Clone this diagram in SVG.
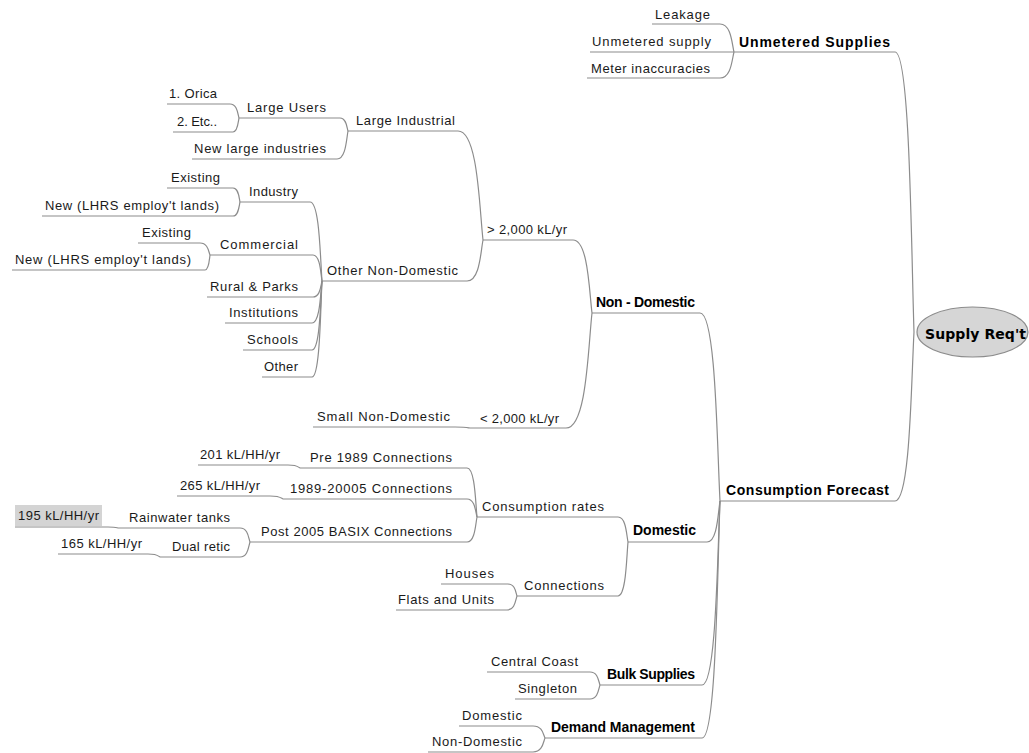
<svg xmlns="http://www.w3.org/2000/svg" width="1029" height="753" viewBox="0 0 1029 753">
<style>
text{font-family:"Liberation Sans",Arial,sans-serif;font-size:13px;fill:#1a1a1a}
text.b{font-weight:bold;font-size:14px;fill:#000}
text.r{font-family:"DejaVu Sans",Verdana,sans-serif;font-weight:bold;font-size:14px;fill:#000}
line,path{stroke:#8c8c8c;stroke-width:1.2;fill:none}
</style>
<rect width="1029" height="753" fill="#fff"/>
<g id="connectors">
<path d="M720,24 C731.2,24 731.9,43.6 734,52"/>
<path d="M720,78 C731.2,78 731.9,59.8 734,52"/>
<path d="M895,52 C910.2,52 911.2,248 914,332"/>
<path d="M895,501 C910.2,501 911.2,382.7 914,332"/>
<path d="M700,313 C716,313 717,444.6 720,501"/>
<path d="M707,542 C717.4,542 718,513.3 720,501"/>
<path d="M702,685 C716.4,685 717.3,556.2 720,501"/>
<path d="M702,738 C716.4,738 717.3,572.1 720,501"/>
<path d="M573,240 C588.2,240 589.2,291.1 592,313"/>
<path d="M566,428 C586.8,428 588.1,347.5 592,313"/>
<path d="M458,131 C478,131 479.3,207.3 483,240"/>
<path d="M467,281 C479.8,281 480.6,252.3 483,240"/>
<path d="M455,427 C467,427 467.8,427.7 470,428"/>
<path d="M340,118 C346.4,118 346.8,127.1 348,131"/>
<path d="M337,159 C345.8,159 346.4,139.4 348,131"/>
<path d="M230,104 C237.2,104 237.7,113.8 239,118"/>
<path d="M233,132 C237.8,132 238.1,122.2 239,118"/>
<path d="M310,202 C319.6,202 320.2,257.3 322,281"/>
<path d="M313,255 C320.2,255 320.7,273.2 322,281"/>
<path d="M313,297 C320.2,297 320.7,285.8 322,281"/>
<path d="M312,323 C320,323 320.5,293.6 322,281"/>
<path d="M312,350 C320,350 320.5,301.7 322,281"/>
<path d="M312,377 C320,377 320.5,309.8 322,281"/>
<path d="M233,188 C238.6,188 239,197.8 240,202"/>
<path d="M233,216 C238.6,216 239,206.2 240,202"/>
<path d="M200,243 C208,243 208.5,251.4 210,255"/>
<path d="M205,270 C209,270 209.3,259.5 210,255"/>
<path d="M618,517 C626,517 626.5,534.5 628,542"/>
<path d="M618,596 C626,596 626.5,558.2 628,542"/>
<path d="M467,468 C475,468 475.5,502.3 477,517"/>
<path d="M467,499 C475,499 475.5,511.6 477,517"/>
<path d="M467,542 C475,542 475.5,524.5 477,517"/>
<path d="M288,465 C297.6,465 298.2,467.1 300,468"/>
<path d="M270,496 C280.4,496 281,498.1 283,499"/>
<path d="M240,528 C248,528 248.5,537.8 250,542"/>
<path d="M240,557 C248,557 248.5,546.5 250,542"/>
<path d="M108,527 C116,527 116.5,527.7 118,528"/>
<path d="M148,554 C157.6,554 158.2,556.1 160,557"/>
<path d="M508,584 C515.2,584 515.7,592.4 517,596"/>
<path d="M507,610 C515,610 515.5,600.2 517,596"/>
<path d="M590,672 C598,672 598.5,681.1 600,685"/>
<path d="M590,699 C598,699 598.5,689.2 600,685"/>
<path d="M533,726 C542.6,726 543.2,734.4 545,738"/>
<path d="M533,752 C542.6,752 543.2,742.2 545,738"/>
</g>
<g id="root">
<ellipse cx="972.5" cy="332" rx="55.5" ry="25" fill="#d6d6d6" stroke="#8c8c8c" stroke-width="1.2"/>
<text class="r" x="925" y="339" textLength="101" lengthAdjust="spacing">Supply Req't</text>
</g>
<g id="unmetered-supplies"><line x1="734" y1="52" x2="895" y2="52"/><text class="b" x="739" y="47" textLength="151" lengthAdjust="spacing">Unmetered Supplies</text></g>
<g id="leakage"><line x1="652" y1="24" x2="720" y2="24"/><text x="655" y="19" textLength="55" lengthAdjust="spacing">Leakage</text></g>
<g id="unmetered-supply"><line x1="590" y1="52" x2="734" y2="52"/><text x="592" y="46" textLength="119" lengthAdjust="spacing">Unmetered supply</text></g>
<g id="meter-inaccuracies"><line x1="587" y1="78" x2="720" y2="78"/><text x="591" y="73" textLength="119" lengthAdjust="spacing">Meter inaccuracies</text></g>
<g id="consumption-forecast"><line x1="720" y1="501" x2="895" y2="501"/><text class="b" x="726" y="495" textLength="163" lengthAdjust="spacing">Consumption Forecast</text></g>
<g id="non-domestic"><line x1="592" y1="313" x2="700" y2="313"/><text class="b" x="596" y="307" textLength="99" lengthAdjust="spacing">Non - Domestic</text></g>
<g id="gt2000"><line x1="483" y1="240" x2="573" y2="240"/><text x="487" y="234" textLength="80" lengthAdjust="spacing">&gt; 2,000 kL/yr</text></g>
<g id="lt2000"><line x1="470" y1="428" x2="566" y2="428"/><text x="480" y="423" textLength="79" lengthAdjust="spacing">&lt; 2,000 kL/yr</text></g>
<g id="small-non-domestic"><line x1="313" y1="427" x2="455" y2="427"/><text x="317" y="421" textLength="133" lengthAdjust="spacing">Small Non-Domestic</text></g>
<g id="large-industrial"><line x1="348" y1="131" x2="458" y2="131"/><text x="356" y="125" textLength="99" lengthAdjust="spacing">Large Industrial</text></g>
<g id="large-users"><line x1="239" y1="118" x2="340" y2="118"/><text x="247" y="112" textLength="79" lengthAdjust="spacing">Large Users</text></g>
<g id="orica"><line x1="167" y1="104" x2="230" y2="104"/><text x="169" y="98" textLength="48" lengthAdjust="spacing">1. Orica</text></g>
<g id="etc"><line x1="173" y1="132" x2="233" y2="132"/><text x="177" y="126" textLength="40" lengthAdjust="spacing">2. Etc..</text></g>
<g id="new-large-industries"><line x1="192" y1="159" x2="337" y2="159"/><text x="194" y="153" textLength="132" lengthAdjust="spacing">New large industries</text></g>
<g id="other-non-domestic"><line x1="322" y1="281" x2="467" y2="281"/><text x="327" y="275" textLength="131" lengthAdjust="spacing">Other Non-Domestic</text></g>
<g id="industry"><line x1="240" y1="202" x2="310" y2="202"/><text x="249" y="196" textLength="49" lengthAdjust="spacing">Industry</text></g>
<g id="industry-existing"><line x1="167" y1="188" x2="233" y2="188"/><text x="171" y="182" textLength="49" lengthAdjust="spacing">Existing</text></g>
<g id="industry-new"><line x1="42" y1="216" x2="233" y2="216"/><text x="45" y="210" textLength="174" lengthAdjust="spacing">New (LHRS employ't lands)</text></g>
<g id="commercial"><line x1="210" y1="255" x2="313" y2="255"/><text x="220" y="249" textLength="78" lengthAdjust="spacing">Commercial</text></g>
<g id="commercial-existing"><line x1="138" y1="243" x2="200" y2="243"/><text x="142" y="237" textLength="49" lengthAdjust="spacing">Existing</text></g>
<g id="commercial-new"><line x1="12" y1="270" x2="205" y2="270"/><text x="15" y="264" textLength="176" lengthAdjust="spacing">New (LHRS employ't lands)</text></g>
<g id="rural-parks"><line x1="207" y1="297" x2="313" y2="297"/><text x="210" y="291" textLength="88" lengthAdjust="spacing">Rural &amp; Parks</text></g>
<g id="institutions"><line x1="225" y1="323" x2="312" y2="323"/><text x="229" y="317" textLength="69" lengthAdjust="spacing">Institutions</text></g>
<g id="schools"><line x1="243" y1="350" x2="312" y2="350"/><text x="247" y="344" textLength="51" lengthAdjust="spacing">Schools</text></g>
<g id="other"><line x1="262" y1="377" x2="312" y2="377"/><text x="264" y="371" textLength="34" lengthAdjust="spacing">Other</text></g>
<g id="domestic"><line x1="628" y1="542" x2="707" y2="542"/><text class="b" x="633" y="535" textLength="63" lengthAdjust="spacing">Domestic</text></g>
<g id="consumption-rates"><line x1="477" y1="517" x2="618" y2="517"/><text x="482" y="511" textLength="122" lengthAdjust="spacing">Consumption rates</text></g>
<g id="pre-1989"><line x1="300" y1="468" x2="467" y2="468"/><text x="310" y="462" textLength="142" lengthAdjust="spacing">Pre 1989 Connections</text></g>
<g id="rate-201"><line x1="198" y1="465" x2="288" y2="465"/><text x="200" y="459" textLength="80" lengthAdjust="spacing">201 kL/HH/yr</text></g>
<g id="c1989"><line x1="283" y1="499" x2="467" y2="499"/><text x="290" y="493" textLength="162" lengthAdjust="spacing">1989-20005 Connections</text></g>
<g id="rate-265"><line x1="177" y1="496" x2="270" y2="496"/><text x="180" y="490" textLength="80" lengthAdjust="spacing">265 kL/HH/yr</text></g>
<g id="post-2005"><line x1="250" y1="542" x2="467" y2="542"/><text x="261" y="536" textLength="191" lengthAdjust="spacing">Post 2005 BASIX Connections</text></g>
<g id="rainwater-tanks"><line x1="118" y1="528" x2="240" y2="528"/><text x="129" y="522" textLength="101" lengthAdjust="spacing">Rainwater tanks</text></g>
<g id="rate-195"><rect x="15" y="505" width="87" height="21" fill="#d4d4d4"/><line x1="15" y1="527" x2="108" y2="527"/><text x="18" y="520" textLength="81" lengthAdjust="spacing">195 kL/HH/yr</text></g>
<g id="dual-retic"><line x1="160" y1="557" x2="240" y2="557"/><text x="172" y="551" textLength="58" lengthAdjust="spacing">Dual retic</text></g>
<g id="rate-165"><line x1="58" y1="554" x2="148" y2="554"/><text x="61" y="548" textLength="81" lengthAdjust="spacing">165 kL/HH/yr</text></g>
<g id="connections"><line x1="517" y1="596" x2="618" y2="596"/><text x="524" y="590" textLength="80" lengthAdjust="spacing">Connections</text></g>
<g id="houses"><line x1="441" y1="584" x2="508" y2="584"/><text x="445" y="578" textLength="49" lengthAdjust="spacing">Houses</text></g>
<g id="flats-units"><line x1="396" y1="610" x2="507" y2="610"/><text x="398" y="604" textLength="96" lengthAdjust="spacing">Flats and Units</text></g>
<g id="bulk-supplies"><line x1="600" y1="685" x2="702" y2="685"/><text class="b" x="607" y="679" textLength="88" lengthAdjust="spacing">Bulk Supplies</text></g>
<g id="central-coast"><line x1="487" y1="672" x2="590" y2="672"/><text x="491" y="666" textLength="87" lengthAdjust="spacing">Central Coast</text></g>
<g id="singleton"><line x1="515" y1="699" x2="590" y2="699"/><text x="518" y="693" textLength="59" lengthAdjust="spacing">Singleton</text></g>
<g id="demand-management"><line x1="545" y1="738" x2="702" y2="738"/><text class="b" x="551" y="732" textLength="144" lengthAdjust="spacing">Demand Management</text></g>
<g id="dm-domestic"><line x1="459" y1="726" x2="533" y2="726"/><text x="462" y="720" textLength="60" lengthAdjust="spacing">Domestic</text></g>
<g id="dm-non-domestic"><line x1="428" y1="752" x2="533" y2="752"/><text x="432" y="746" textLength="90" lengthAdjust="spacing">Non-Domestic</text></g>
</svg>
